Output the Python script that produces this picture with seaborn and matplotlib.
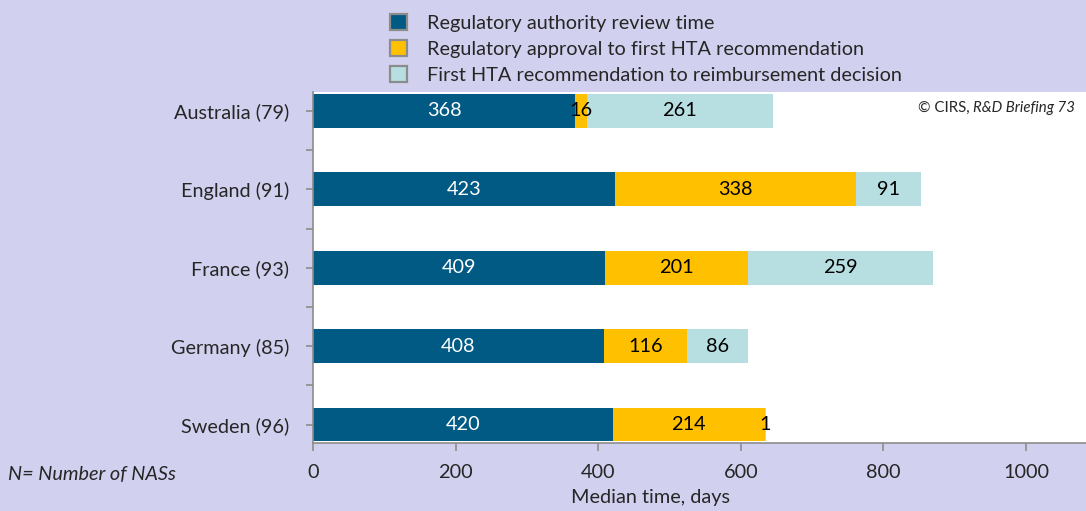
import matplotlib
matplotlib.use("Agg")
import matplotlib.pyplot as plt
from matplotlib.patches import Patch
import numpy as np
import pandas as pd
import seaborn as sns

# Data
countries = ["Australia (79)", "England (91)", "France (93)", "Germany (85)", "Sweden (96)"]
review_time = [368, 423, 409, 408, 420]
approval_to_hta = [16, 338, 201, 116, 214]
hta_to_reimb = [261, 91, 259, 86, 1]

series_names = ["Regulatory authority review time",
                "Regulatory approval to first HTA recommendation",
                "First HTA recommendation to reimbursement decision"]
colors = ["#005A84", "#FFC000", "#B7DEE0"]
text_colors = ["white", "black", "black"]
bg = "#D1D1EF"
fs = 14.3

sns.set_theme(style="white")
plt.rcParams["font.family"] = ["Lato", "DejaVu Sans"]

df = pd.DataFrame({"country": countries,
                   "s1": review_time, "s2": approval_to_hta, "s3": hta_to_reimb})
df["c1"] = df["s1"]
df["c2"] = df["s1"] + df["s2"]
df["c3"] = df["c2"] + df["s3"]

fig = plt.figure(figsize=(10.86, 5.11), dpi=100, facecolor=bg)
ax = fig.add_axes([313 / 1086, 1 - 443 / 511, 1 - 313 / 1086, (443 - 92) / 511])
ax.set_facecolor("white")

# stack by overlaying cumulative totals, longest first
for col, c in zip(["c3", "c2", "c1"], colors[::-1]):
    sns.barplot(data=df, x=col, y="country", color=c, width=0.43,
                saturation=1, linewidth=0, ax=ax)

for i, row in df.iterrows():
    lefts = [0, row["c1"], row["c2"]]
    vals = [row["s1"], row["s2"], row["s3"]]
    for k in range(3):
        ax.text(lefts[k] + vals[k] / 2, i, str(vals[k]), ha="center", va="center",
                color=text_colors[k], fontsize=fs)

ax.set_xlim(0, 1084)
ax.set_ylim(4.236, -0.242)
ax.set_xticks([0, 200, 400, 600, 800, 1000])
ax.set_yticks(range(len(countries)))
ax.set_yticklabels(countries)
ax.set_yticks(np.arange(0.5, len(countries) - 1, 1), minor=True)
ax.tick_params(axis="y", which="both", left=True, length=5, color="#8C8C8C",
               direction="out", width=1.2)
ax.tick_params(axis="y", which="major", pad=12, labelsize=fs)
ax.tick_params(axis="x", bottom=True, length=6, color="#8C8C8C", width=1.2,
               pad=9, labelsize=fs)
ax.set_ylabel("")
ax.set_xlabel("Median time, days", fontsize=fs)
ax.xaxis.set_label_coords(0.436, -0.13)
for s in ["top", "right"]:
    ax.spines[s].set_visible(False)
for s in ["left", "bottom"]:
    ax.spines[s].set_color("#8C8C8C")
    ax.spines[s].set_linewidth(1.2)

handles = [Patch(facecolor=c, edgecolor="#8C8C8C", linewidth=1.6) for c in colors]
fig.legend(handles, series_names, loc="upper left", bbox_to_anchor=(382 / 1086, 1 - 6 / 511),
           frameon=False, fontsize=fs, handlelength=0.85, handleheight=0.85,
           labelspacing=0.42, handletextpad=1.0, borderaxespad=0)

t2 = fig.text(1075 / 1086, 1 - 108 / 511, "R&D Briefing 73", ha="right",
              va="center", fontsize=10.8, style="italic")
ax.annotate("© CIRS, ", xy=(0, 0.5), xycoords=t2, ha="right", va="center",
            fontsize=10.8)

fig.text(8 / 1086, 1 - 474 / 511, "N= Number of NASs", fontsize=fs,
         style="italic", va="center", ha="left")

fig.savefig("out.png", dpi=100, facecolor=bg)
